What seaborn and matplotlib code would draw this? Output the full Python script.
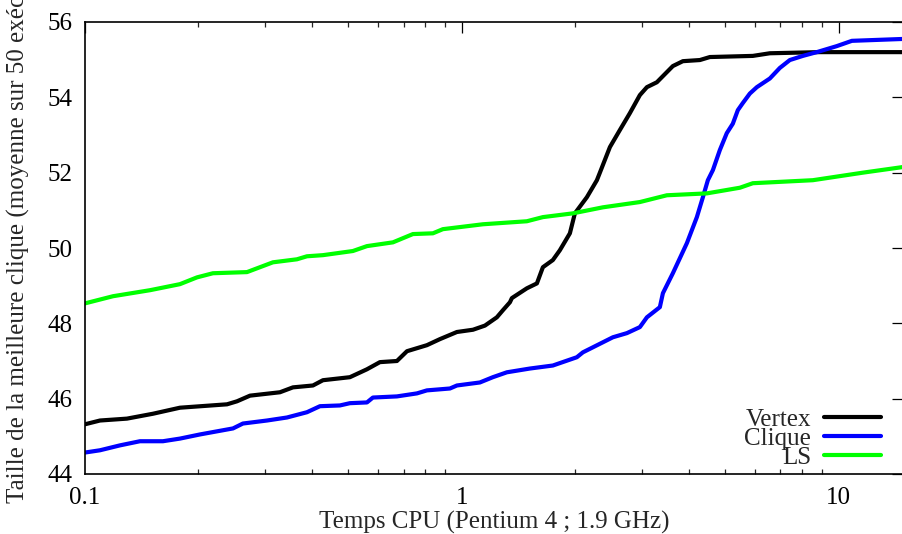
import matplotlib
matplotlib.use("Agg")
import matplotlib.pyplot as plt
import matplotlib.ticker as mticker
import numpy as np
import pandas as pd
import seaborn as sns

# Temps CPU (s) et taille moyenne de la meilleure clique trouvée
vertex_t = [0.1, 0.1096, 0.1292, 0.1515, 0.1786, 0.2381, 0.2531, 0.274, 0.329,
            0.3562, 0.4025, 0.4279, 0.5044, 0.5598, 0.606, 0.6723, 0.7149, 0.8075,
            0.874, 0.9699, 1.07, 1.151, 1.238, 1.285, 1.341, 1.357, 1.487, 1.581,
            1.64, 1.743, 1.819, 1.934, 1.994, 2.146, 2.281, 2.323, 2.47, 2.624,
            2.79, 2.966, 3.096, 3.29, 3.498, 3.628, 3.857, 4.279, 4.549, 5.914,
            6.561, 8.902, 14.8]
vertex_y = [45.32, 45.42, 45.47, 45.6, 45.76, 45.85, 45.93, 46.08, 46.17,
            46.3, 46.35, 46.49, 46.57, 46.78, 46.97, 47.0, 47.26, 47.42,
            47.58, 47.77, 47.83, 47.94, 48.16, 48.35, 48.56, 48.67, 48.93, 49.06,
            49.49, 49.68, 49.94, 50.39, 50.92, 51.35, 51.8, 52.0, 52.68, 53.13,
            53.58, 54.06, 54.27, 54.4, 54.67, 54.83, 54.96, 54.99, 55.07, 55.1,
            55.17, 55.2, 55.2]

clique_t = [0.1, 0.1096, 0.1238, 0.1399, 0.161, 0.1786, 0.2018, 0.247, 0.2624,
            0.304, 0.3434, 0.388, 0.4201, 0.4746, 0.5044, 0.5598, 0.5806, 0.6723,
            0.7597, 0.8075, 0.9294, 0.9699, 1.116, 1.208, 1.316, 1.515, 1.743,
            2.018, 2.094, 2.515, 2.74, 2.966, 3.096, 3.351, 3.414, 3.628, 3.953,
            4.201, 4.359, 4.493, 4.634, 4.834, 5.044, 5.233, 5.396, 5.564, 5.806,
            6.06, 6.561, 6.973, 7.413, 8.027, 8.74, 9.878, 10.83, 14.8]
clique_y = [44.57, 44.63, 44.76, 44.87, 44.87, 44.94, 45.05, 45.21, 45.34,
            45.42, 45.5, 45.64, 45.8, 45.82, 45.88, 45.9, 46.03, 46.06,
            46.14, 46.22, 46.27, 46.35, 46.43, 46.57, 46.7, 46.8, 46.88,
            47.1, 47.23, 47.63, 47.74, 47.9, 48.16, 48.43, 48.8, 49.33, 50.13,
            50.82, 51.35, 51.8, 52.07, 52.6, 53.05, 53.3, 53.66, 53.85, 54.1,
            54.27, 54.5, 54.78, 54.99, 55.1, 55.2, 55.36, 55.5, 55.55]

ls_t = [0.1, 0.1187, 0.1488, 0.1786, 0.1982, 0.2185, 0.269, 0.3152, 0.365,
        0.388, 0.4279, 0.5138, 0.5598, 0.6561, 0.7413, 0.8376, 0.8902, 1.137,
        1.487, 1.64, 1.97, 2.366, 2.966, 3.498, 4.466, 5.463, 5.914, 8.531,
        9.64, 11.58, 14.8]
ls_y = [48.53, 48.72, 48.88, 49.04, 49.22, 49.33, 49.36, 49.62, 49.7,
        49.78, 49.81, 49.92, 50.05, 50.15, 50.37, 50.39, 50.5, 50.63,
        50.71, 50.82, 50.92, 51.08, 51.22, 51.4, 51.45, 51.6, 51.72, 51.8,
        51.88, 52.0, 52.15]

series = ["Vertex", "Clique", "LS"]
colors = {"Vertex": "#000000", "Clique": "#0000ff", "LS": "#00ff00"}

df = pd.concat([
    pd.DataFrame({"t": vertex_t, "taille": vertex_y, "algo": "Vertex"}),
    pd.DataFrame({"t": clique_t, "taille": clique_y, "algo": "Clique"}),
    pd.DataFrame({"t": ls_t, "taille": ls_y, "algo": "LS"}),
], ignore_index=True)

sns.set_style("white")
plt.rcParams["font.family"] = ["Liberation Serif", "DejaVu Serif"]

fig = plt.figure(figsize=(9.02, 5.34), dpi=100)
ax = fig.add_axes([85 / 902, 60 / 534, 818 / 902, 452 / 534])

sns.lineplot(data=df, x="t", y="taille", hue="algo", hue_order=series,
             palette=colors, estimator=None, sort=False, linewidth=3.0,
             ax=ax)

ax.set_xscale("log")
ax.set_xlim(0.1, 14.8)
ax.set_ylim(44, 56)
ax.set_yticks(np.arange(44, 57, 2))
ax.xaxis.set_major_locator(mticker.FixedLocator([0.1, 1, 10]))
ax.xaxis.set_major_formatter(mticker.FixedFormatter(["0.1", "1", "10"]))
ax.xaxis.set_minor_locator(mticker.LogLocator(base=10, subs=np.arange(2, 10)))
ax.xaxis.set_minor_formatter(mticker.NullFormatter())

ax.tick_params(axis="both", which="major", direction="in", length=8, width=0.9,
               top=True, right=True, labelsize=18, colors="black")
ax.tick_params(axis="x", which="major", pad=9)
ax.tick_params(axis="y", which="major", pad=9)
ax.tick_params(axis="x", which="minor", direction="in", length=3.8, width=0.9,
               top=True, bottom=True)
for sp in ax.spines.values():
    sp.set_visible(True)
    sp.set_color("black")
    sp.set_linewidth(1.2)

ax.set_xlabel("Temps CPU (Pentium 4 ; 1.9 GHz)", fontsize=18, labelpad=2)
ax.set_ylabel("Taille de la meilleure clique (moyenne sur 50 exécutions)",
              fontsize=18, ha="left", va="center")
ax.yaxis.set_label_coords(-0.081, -0.064)

handles, labels = ax.get_legend_handles_labels()
leg = ax.legend(handles, labels, loc="lower right", bbox_to_anchor=(0.980, 0.0),
                frameon=False, markerfirst=False, fontsize=18,
                labelspacing=-0.15, handlelength=2.3, handletextpad=0.5,
                borderaxespad=0.0, borderpad=0.22)
for line in leg.get_lines():
    line.set_linewidth(3.0)

fig.savefig("out.png", dpi=100, facecolor="white")
